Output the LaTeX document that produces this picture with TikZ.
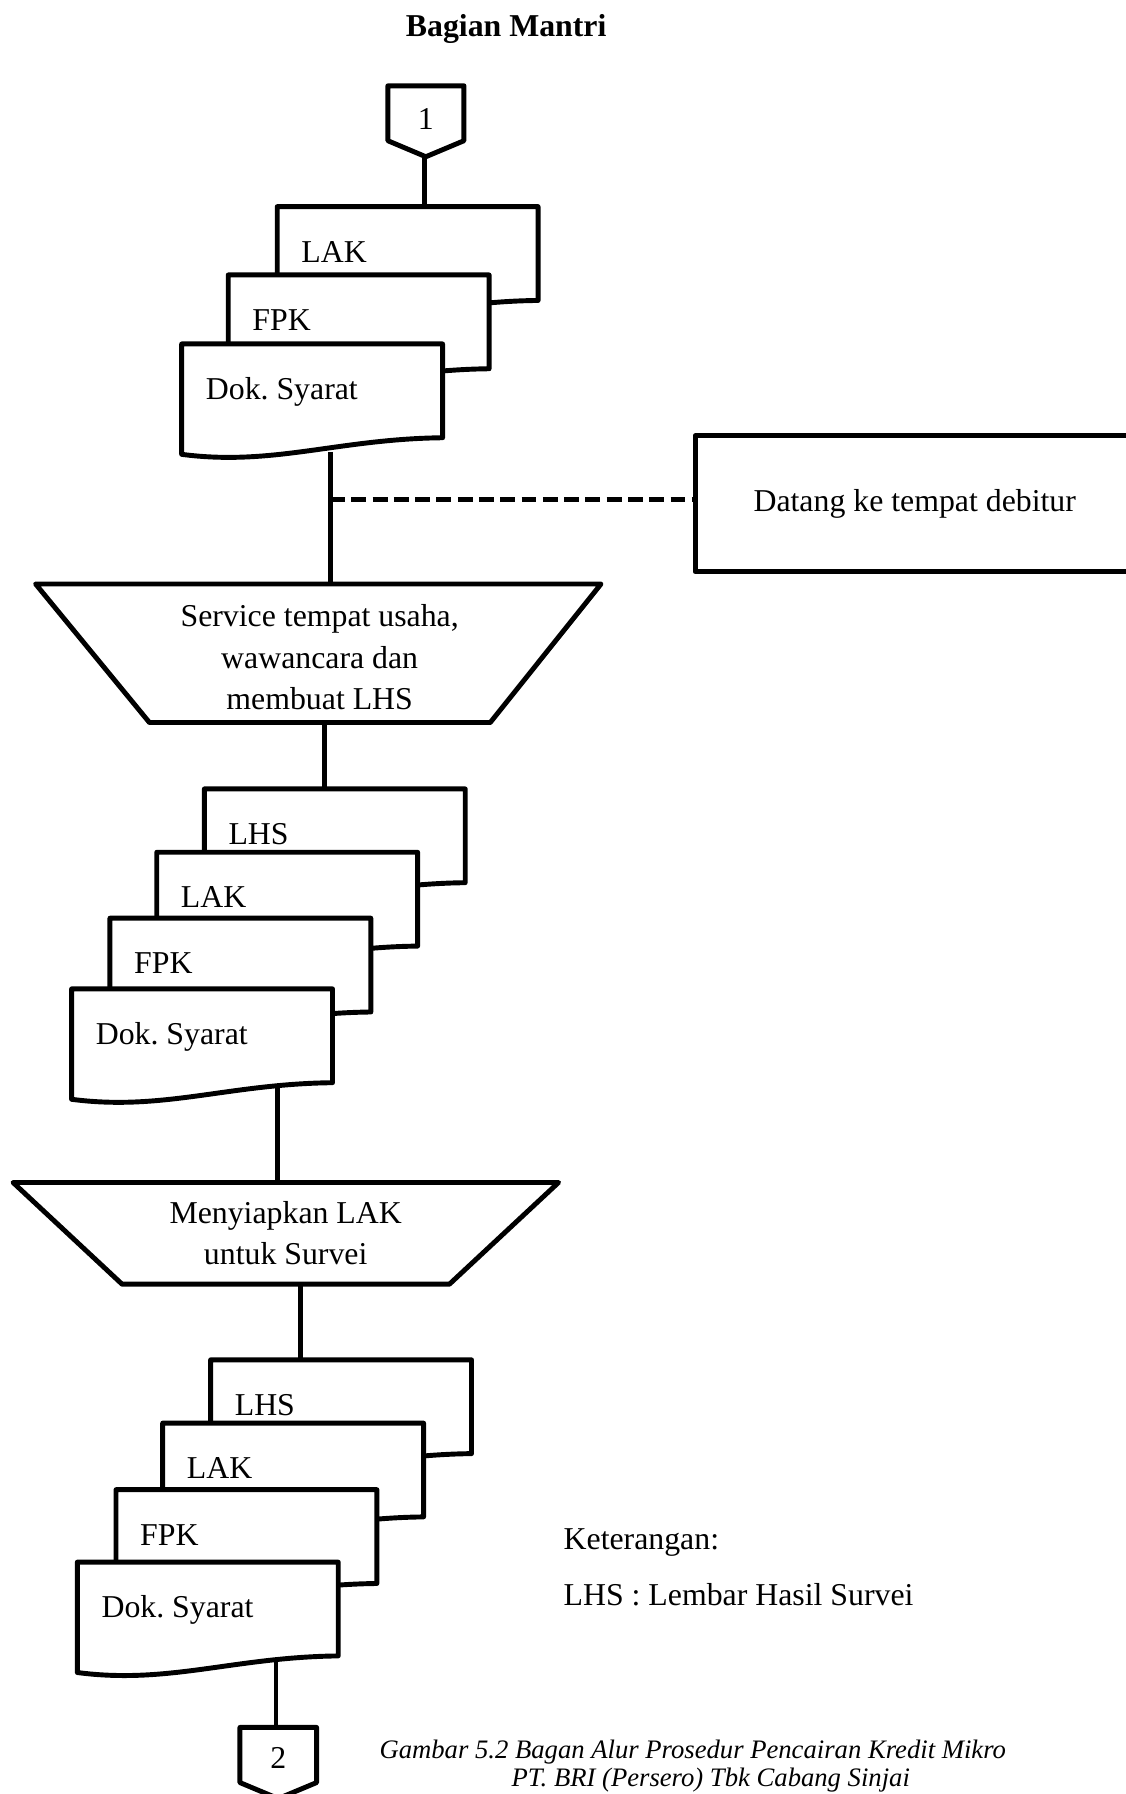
\documentclass[tikz,border=0pt]{standalone}
\usepackage{fontspec}
\setmainfont{Liberation Serif}
\frenchspacing
\newcommand\bodysize{\fontsize{27.8}{36.4}\selectfont}
\newcommand\capsize{\fontsize{23.3}{25}\selectfont}
% paper document: name, left x, top y, label
\newcommand\paperdoc[4]{%
  \draw[fill=white] (#2,#3) -- ({#2+228},#3) -- ({#2+228},{#3+82})
    .. controls ({#2+136.8},{#3+83}) and ({#2+79.8},{#3+107}) .. (#2,{#3+96.5}) -- cycle;
  \node[txt, anchor=base west] (#1) at ({#2+19},{#3+48.6}) {#4};
}
\begin{document}
\begin{tikzpicture}[x=1pt, y=-1pt, line width=4.3pt, line join=round,
  txt/.style={font=\bodysize, inner sep=0pt},
  dashline/.style={dash pattern=on 13pt off 5.6pt}]
\useasboundingbox (0,0) rectangle (984,1568);
\fill[white] (0,0) rectangle (984,1568);
\clip (0,0) rectangle (984,1568);

% attachment points
\coordinate (s1top) at (242.3,180.6);
\coordinate (s1out) at (288.5,395);
\coordinate (t1top) at (0,510.4);
\coordinate (t1out) at (283.5,631.5);
\coordinate (s2top) at (178.6,689.5);
\coordinate (s2out) at (242.7,950);
\coordinate (t2top) at (0,1033.5);
\coordinate (t2out) at (263,1122.4);
\coordinate (s3top) at (184.1,1188.5);
\coordinate (s3out) at (241.2,1450);
\coordinate (c2top) at (0,1509.8);
\coordinate (c1tip) at (371,137);
\coordinate (j1) at (288.5,436.4);

% title
\node[txt, font=\bodysize\bfseries, anchor=base] (title) at (442.4,32) {Bagian Mantri};

% side activity
\node[draw, txt, minimum width=384pt, minimum height=118.6pt] (visit) at (799.5,440.3) {Datang ke tempat debitur};

% flow lines
\draw (c1tip) -- (c1tip |- s1top);
\draw (s1out) -- (s1out |- t1top);
\draw[dashline] (j1) -- (j1 -| visit.west);
\draw (t1out) -- (t1out |- s2top);
\draw (s2out) -- (s2out |- t2top);
\draw (t2out) -- (t2out |- s3top);
\draw (s3out) -- (s3out |- c2top);

% off-page connector 1
\draw[fill=white] (339,75) -- (405.5,75) -- (405.5,123) -- (372.2,137) -- (339,123) -- cycle;
\node[txt, anchor=base] (c1) at (372.2,113.5) {1};

% first document stack
\paperdoc{s1lak}{242.3}{180.6}{LAK}
\paperdoc{s1fpk}{199.5}{240.3}{FPK}
\paperdoc{s1dok}{158.8}{300.6}{Dok. Syarat}

% manual operation 1
\draw[fill=white] (31.1,510.4) -- (525.3,510.4) -- (428.5,631.5) -- (130.6,631.5) -- cycle;
\node[txt, anchor=base] (op1) at (279.4,547.7)
  {\begin{tabular}[t]{@{}c@{}}Service tempat usaha,\\ wawancara dan\\ membuat LHS\end{tabular}};

% second document stack
\paperdoc{s2lhs}{178.6}{689.5}{LHS}
\paperdoc{s2lak}{137}{744.9}{LAK}
\paperdoc{s2fpk}{96.1}{802.5}{FPK}
\paperdoc{s2dok}{62.6}{864.3}{Dok. Syarat}

% manual operation 2
\draw[fill=white] (11.4,1033.5) -- (488.2,1033.5) -- (392.8,1122.4) -- (106.7,1122.4) -- cycle;
\node[txt, anchor=base] (op2) at (249.7,1069)
  {\begin{tabular}[t]{@{}c@{}}Menyiapkan LAK\\ untuk Survei\end{tabular}};

% third document stack
\paperdoc{s3lhs}{184.1}{1188.5}{LHS}
\paperdoc{s3lak}{142.2}{1243.8}{LAK}
\paperdoc{s3fpk}{101.4}{1302}{FPK}
\paperdoc{s3dok}{67.6}{1365.3}{Dok. Syarat}

% off-page connector 2
\draw[fill=white] (209.7,1509.8) -- (276.7,1509.8) -- (276.7,1558) -- (243.2,1572) -- (209.7,1558) -- cycle;
\node[txt, anchor=base] (c2) at (243.2,1545.5) {2};

% legend
\node[txt, anchor=base west] (legend) at (490.5,1354.5) {Keterangan:};
\node[txt, anchor=base west] (legendlhs) at (490.5,1403.5) {LHS : Lembar Hasil Survei};

% caption
\node[font=\capsize\itshape, inner sep=0pt, anchor=base west] (cap1) at (329.6,1537)
  {Gambar 5.2 Bagan Alur Prosedur Pencairan Kredit Mikro};
\node[font=\capsize\itshape, inner sep=0pt, anchor=base west] (cap2) at (445,1561)
  {PT. BRI (Persero) Tbk Cabang Sinjai};
\end{tikzpicture}
\end{document}
